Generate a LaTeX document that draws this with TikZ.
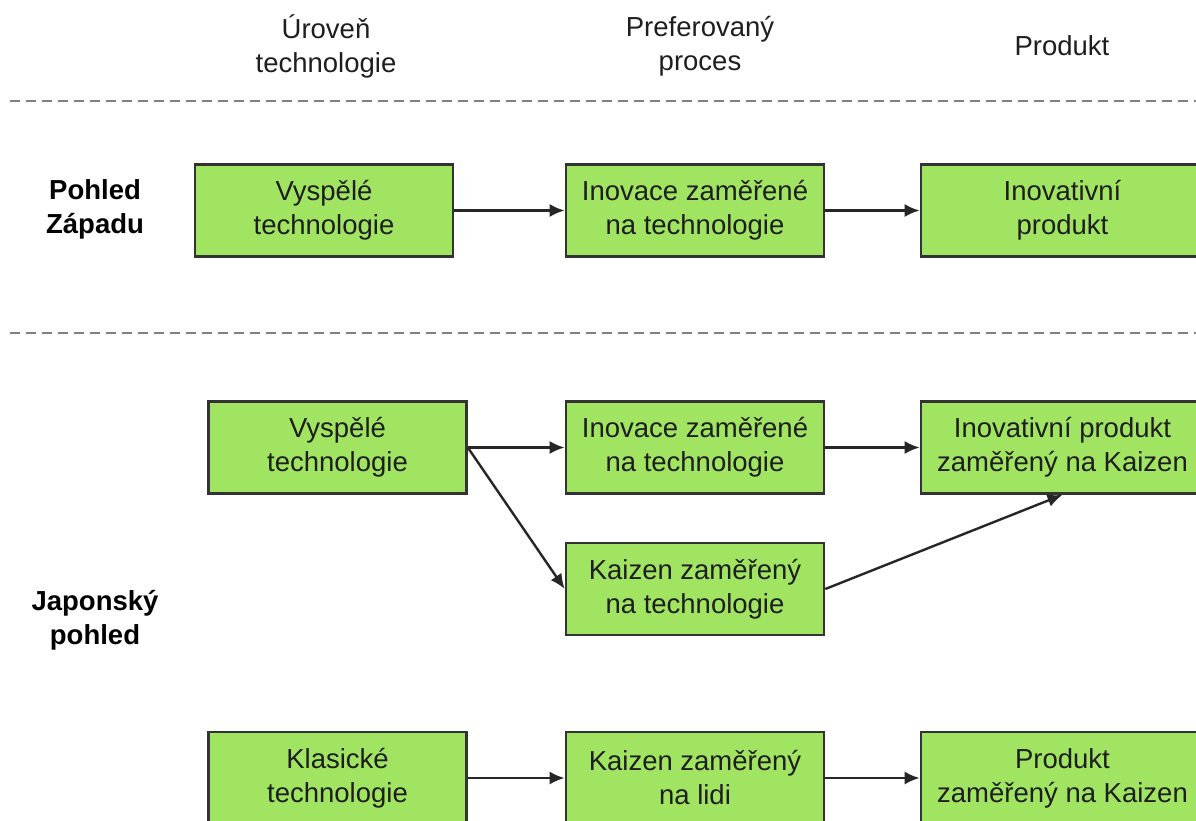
\documentclass[tikz,border=0pt]{standalone}
\usepackage{fontspec}
\setmainfont{Liberation Sans}
\usetikzlibrary{arrows.meta}
\definecolor{boxgreen}{HTML}{A0E462}
\definecolor{boxline}{HTML}{333333}
\definecolor{txt}{HTML}{1E1E1E}
\definecolor{sep}{HTML}{808080}
\tikzset{
  stepbox/.style={draw=boxline, line width=2.6pt, fill=boxgreen, align=center,
    text=txt, minimum width=258pt, minimum height=92pt, inner sep=0pt,
    font=\fontsize{27.5}{34}\selectfont},
  widebox/.style={stepbox, minimum width=283pt},
  flow/.style={draw=black!85, line width=2.4pt, -{Latex[length=15pt,width=13pt]}},
  sepline/.style={draw=sep, line width=2.2pt, dash pattern=on 10pt off 6pt},
  header/.style={align=center, text=txt, font=\fontsize{27.5}{34}\selectfont},
  rowlabel/.style={align=center, text=black, font=\fontsize{27.5}{34}\selectfont\bfseries}
}
\begin{document}
\begin{tikzpicture}[x=1pt,y=-1pt]
\useasboundingbox (0,0) rectangle (1196,821);
\clip (0,0) rectangle (1196,821);

% column headers
\node[header] (h1) at (326,46) {Úroveň\\technologie};
\node[header] (h2) at (700,46) {Preferovaný\\proces};
\node[header] (h3) at (1062,46) {Produkt};

% separators
\coordinate (s1a) at (10,101);
\coordinate (s1b) at (1200,101);
\coordinate (s2a) at (10,333);
\coordinate (s2b) at (1200,333);
\draw[sepline] (s1a) -- (s1b);
\draw[sepline] (s2a) -- (s2b);

% row labels
\node[rowlabel] (west) at (95,209) {Pohled\\Západu};
\node[rowlabel] (japan) at (95,620) {Japonský\\pohled};

% western view
\node[stepbox] (a) at (324,210.5) {Vyspělé\\technologie};
\node[stepbox] (b) at (695,210.5) {Inovace zaměřené\\na technologie};
\node[widebox] (c) at (1062.5,210.5) {Inovativní\\produkt};
\draw[flow] (a) -- (b);
\draw[flow] (b) -- (c);

% japanese view
\node[stepbox] (d) at (337.5,447.5) {Vyspělé\\technologie};
\node[stepbox] (e) at (695,447.5) {Inovace zaměřené\\na technologie};
\node[widebox] (f) at (1062.5,447.5) {Inovativní produkt\\zaměřený na Kaizen};
\node[stepbox] (g) at (695,589) {Kaizen zaměřený\\na technologie};
\draw[flow] (d) -- (e);
\draw[flow] (e) -- (f);
\draw[flow] (d.east) -- (g.west);
\draw[flow] (g.east) -- (f.south);

\node[stepbox] (h) at (337.5,778) {Klasické\\technologie};
\node[stepbox] (i) at (695,778) {Kaizen zaměřený\\na lidi};
\node[widebox] (j) at (1062.5,778) {Produkt\\zaměřený na Kaizen};
\draw[flow] (h) -- (i);
\draw[flow] (i) -- (j);
\end{tikzpicture}
\end{document}
